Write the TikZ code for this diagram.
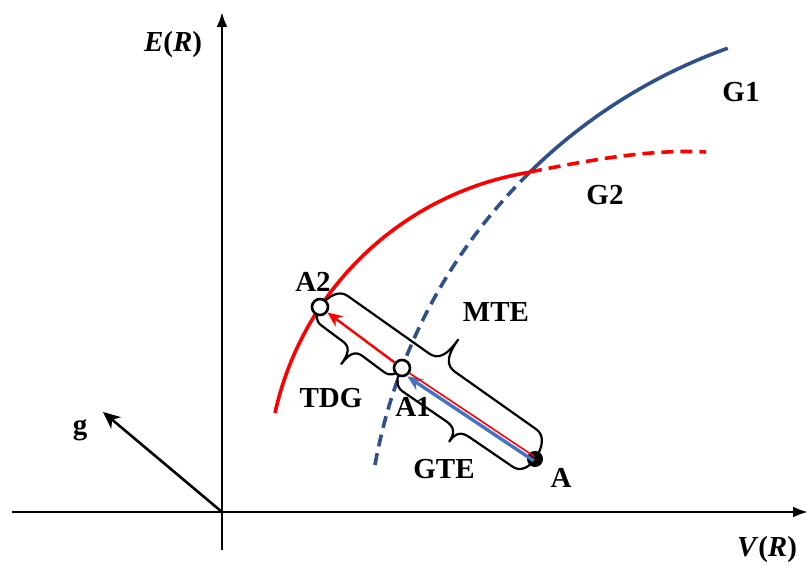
\documentclass[tikz,border=0pt]{standalone}
\usepackage{fontspec}
\setmainfont{Liberation Serif}
\usepackage{xcolor}
\usetikzlibrary{arrows.meta, positioning, backgrounds}
\definecolor{gblue}{RGB}{68,114,196}

% curly bracket along the local x axis: length, body height, tip height, curl length
\newcommand{\bracepath}[4]{%
    \draw[brc] (0,0) .. controls (0,{0.6*#2}) and ({0.4*#4},#2) .. (#4,#2)
        -- ({#1/2-#4},#2) .. controls ({#1/2-0.3*#4},#2) and ({#1/2},{#2+0.3*(#3-#2)}) .. ({#1/2},#3)
        .. controls ({#1/2},{#2+0.3*(#3-#2)}) and ({#1/2+0.3*#4},#2) .. ({#1/2+#4},#2)
        -- ({#1-#4},#2) .. controls ({#1-0.4*#4},#2) and (#1,{0.6*#2}) .. (#1,0);}

\begin{document}
\begin{tikzpicture}[x=1pt, y=1pt,
    lbl/.style={font=\fontsize{29}{32}\selectfont\bfseries, inner sep=0pt},
    axis/.style={line width=2.6pt, -{Latex[length=15pt, width=11pt]}},
    opendot/.style={draw, circle, fill=white, line width=2.6pt, minimum size=16pt, inner sep=0pt},
    fulldot/.style={draw, circle, fill=black, line width=1pt, minimum size=15pt, inner sep=0pt},
    brc/.style={line width=2.2pt, line join=round}]
    \useasboundingbox (0,0) rectangle (808,570);

    % axes
    \coordinate (O) at (222,58);
    \coordinate (xl) at (12,58);
    \coordinate (xr) at (808,58);
    \coordinate (yb) at (222,20);
    \coordinate (yt) at (222,558);
    \draw[axis] (xl) -- (xr);
    \draw[axis] (yb) -- (yt);
    \node[lbl] (ER) at (173,525) {\textit{E}(\textit{R})};
    \node[lbl] (VR) at (767,20) {\textit{V}(\textit{R})};

    % g vector
    \coordinate (gend) at (103,158);
    \draw[line width=2.6pt, -{Stealth[length=17pt, width=15pt, inset=5pt]}] (O) -- (gend);
    \node[lbl] (g) at (80,140) {g};

    % states
    \node[opendot] (A2) at (320,263) {};
    \node[opendot] (A1) at (402,202) {};
    \node[fulldot] (A) at (535,111) {};

    \begin{pgfonlayer}{background}
        % G1 (blue) and G2 (red)
        \draw[gblue!70!black, line width=3.6pt, dash pattern=on 12pt off 7pt]
            (375,105) arc[start angle=169.8, end angle=134.4, radius=545.3];
        \draw[gblue!70!black, line width=3.6pt] (530,398) arc[start angle=134.4, end angle=109.7, radius=545.3];
        \draw[red, line width=3.6pt] (275,157) arc[start angle=167.6, end angle=99.1, radius=311.7];
        \draw[red, line width=3.6pt, dash pattern=on 12pt off 7pt]
            (530,398) .. controls (590,410) and (650,421) .. (706,418);

        % brackets
        \begin{scope}[shift={(A2.center)}, rotate=-35.26]
            \bracepath{263.3}{25}{53}{16}
        \end{scope}
        \begin{scope}[shift={(A1.center)}, rotate=143.35]
            \bracepath{102.2}{14}{33}{12}
        \end{scope}
        \begin{scope}[shift={(A.center)}, rotate=145.62]
            \bracepath{161.2}{19}{34}{14}
        \end{scope}
    \end{pgfonlayer}

    % moves
    \draw[gblue, line width=3.4pt, -{Stealth[length=15pt, width=13pt]}]
        ([xshift=-1.2pt, yshift=-1.8pt]A.center) -- ([xshift=-1.2pt, yshift=-1.8pt]A1.south east);
    \draw[red, line width=1.6pt, shorten <=2pt] ([xshift=1pt, yshift=1.4pt]A.center) -- ([xshift=1pt, yshift=1.4pt]A1.south east);
    \draw[red, line width=2.4pt, -{Stealth[length=15pt, width=13pt]}] (A1) -- (A2);

    % labels
    \node[lbl] (lA2) at (313,288) {A2};
    \node[lbl] (lA1) at (413,163) {A1};
    \node[lbl] (lA) at (561,92) {A};
    \node[lbl] (TDG) at (331,172) {TDG};
    \node[lbl] (GTE) at (444,101) {GTE};
    \node[lbl] (MTE) at (496,258) {MTE};
    \node[lbl] (G1) at (741,478) {G1};
    \node[lbl] (G2) at (605,375) {G2};
\end{tikzpicture}
\end{document}
